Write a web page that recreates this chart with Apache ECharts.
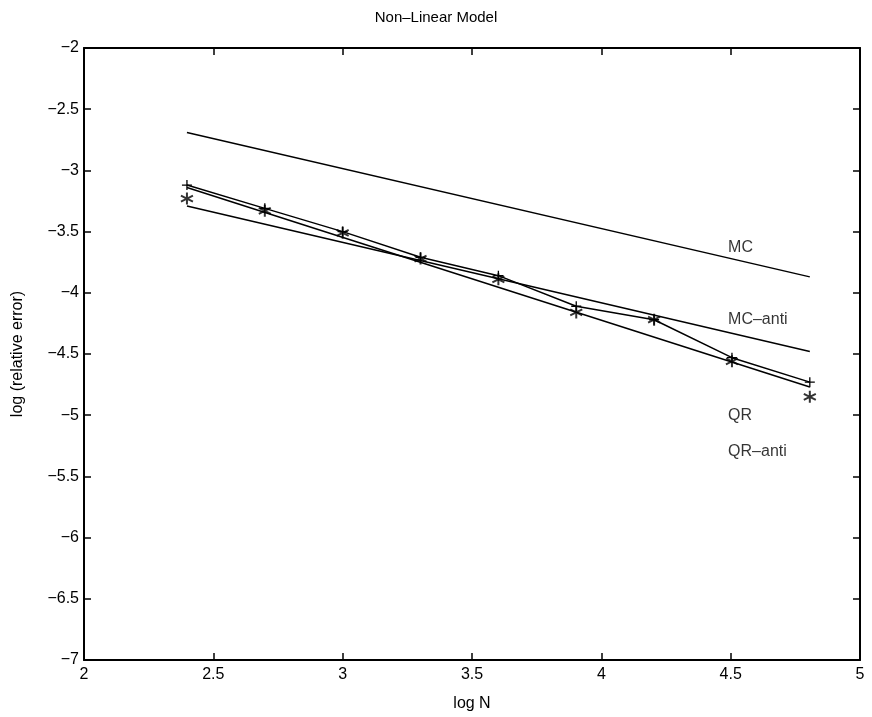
<!DOCTYPE html>
<html>
<head>
<meta charset="utf-8">
<script src="https://cdn.jsdelivr.net/npm/echarts@6/dist/echarts.min.js"></script>
<style>html,body{margin:0;padding:0;background:#fff;}#c{width:872px;height:717px;}</style>
</head>
<body>
<div id="c"></div>
<script>
// ---- data ----
var logN = [2.398, 2.699, 3.0, 3.301, 3.602, 3.903, 4.204, 4.505, 4.806];
var fitX = [2.398, 4.806];
var mcFit = [-2.69, -3.87];
var mcAntiFit = [-3.29, -4.48];
var qrLine = [-3.12, -3.31, -3.50, -3.71, -3.86, -4.11, -4.22, -4.53, -4.73];
var qrAntiFit = [-3.14, -4.77];
var qrAntiPts = [-3.23, -3.33, -3.51, -3.72, -3.89, -4.16, -4.22, -4.56, -4.85];
var labelNames = ['MC', 'MC\u2013anti', 'QR', 'QR\u2013anti'];
var labelX = [4.49, 4.49, 4.49, 4.49];
var labelY = [-3.63, -4.22, -5.0, -5.3];
var xTicks = {min: 2, max: 5, step: 0.5};
var yTicks = {min: -7, max: -2, step: 0.5};

function pairs(xs, ys) { return xs.map(function (x, i) { return [x, ys[i]]; }); }
function fmt(v) { var s = String(Math.round(v * 10) / 10); return s.replace('-', '\u2212'); }

var FONT = 'Liberation Sans';
var starPath = 'path://M0,-6L0,6M-5.2,-3L5.2,3M-5.2,3L5.2,-3';
var plusPath = 'path://M0,-6L0,6M-6,0L6,0';

var baseAxis = {
  axisLine: {show: true, lineStyle: {color: '#000', width: 2}},
  axisTick: {show: true, inside: true, length: 7, lineStyle: {color: '#000', width: 1.5}},
  splitLine: {show: false}
};

var chart = echarts.init(document.getElementById('c'), null, {renderer: 'canvas'});
chart.setOption({
  animation: false,
  backgroundColor: '#fff',
  title: {
    text: 'Non\u2013Linear Model', left: 'center', top: 5,
    textStyle: {fontFamily: FONT, fontSize: 15, fontWeight: 'normal', color: '#000'}
  },
  grid: {left: 84, right: 12, top: 48, bottom: 50, containLabel: false},
  xAxis: [
    Object.assign({}, baseAxis, {
      type: 'value', min: xTicks.min, max: xTicks.max, interval: xTicks.step, position: 'bottom',
      name: 'log N', nameLocation: 'middle', nameGap: 36,
      nameTextStyle: {fontFamily: FONT, fontSize: 16, color: '#000'},
      axisLabel: {fontFamily: FONT, fontSize: 16, color: '#000', margin: 7, formatter: fmt}
    }),
    Object.assign({}, baseAxis, {
      type: 'value', min: xTicks.min, max: xTicks.max, interval: xTicks.step, position: 'top',
      axisLabel: {show: false}
    })
  ],
  yAxis: [
    Object.assign({}, baseAxis, {
      type: 'value', min: yTicks.min, max: yTicks.max, interval: yTicks.step, position: 'left',
      name: 'log (relative error)', nameLocation: 'middle', nameGap: 58,
      nameTextStyle: {fontFamily: FONT, fontSize: 16, color: '#000'},
      axisLabel: {fontFamily: FONT, fontSize: 16, color: '#000', margin: 5, formatter: fmt}
    }),
    Object.assign({}, baseAxis, {
      type: 'value', min: yTicks.min, max: yTicks.max, interval: yTicks.step, position: 'right',
      axisLabel: {show: false}
    })
  ],
  series: [
    {name: 'MC', type: 'line', data: pairs(fitX, mcFit), showSymbol: false, symbol: 'none',
     lineStyle: {color: '#000', width: 1.5}},
    {name: 'MC-anti', type: 'line', data: pairs(fitX, mcAntiFit), showSymbol: false, symbol: 'none',
     lineStyle: {color: '#000', width: 1.5}},
    {name: 'QR', type: 'line', data: pairs(logN, qrLine), symbol: plusPath, symbolSize: 10,
     itemStyle: {color: 'none', borderColor: '#000', borderWidth: 1.3},
     lineStyle: {color: '#000', width: 1.5}},
    {name: 'QR-anti fit', type: 'line', data: pairs(fitX, qrAntiFit), showSymbol: false, symbol: 'none',
     lineStyle: {color: '#000', width: 1.5}},
    {name: 'QR-anti', type: 'scatter', data: pairs(logN, qrAntiPts), symbol: starPath, symbolSize: 12,
     itemStyle: {color: 'none', borderColor: '#000', borderWidth: 2}},
    {name: 'labels', type: 'scatter', symbolSize: 0,
     data: labelNames.map(function (n, i) { return [labelX[i], labelY[i], n]; }),
     label: {show: true, position: 'right', distance: 0, formatter: function (p) { return p.value[2]; },
             fontFamily: FONT, fontSize: 16, color: '#000'}}
  ]
});
</script>
</body>
</html>
